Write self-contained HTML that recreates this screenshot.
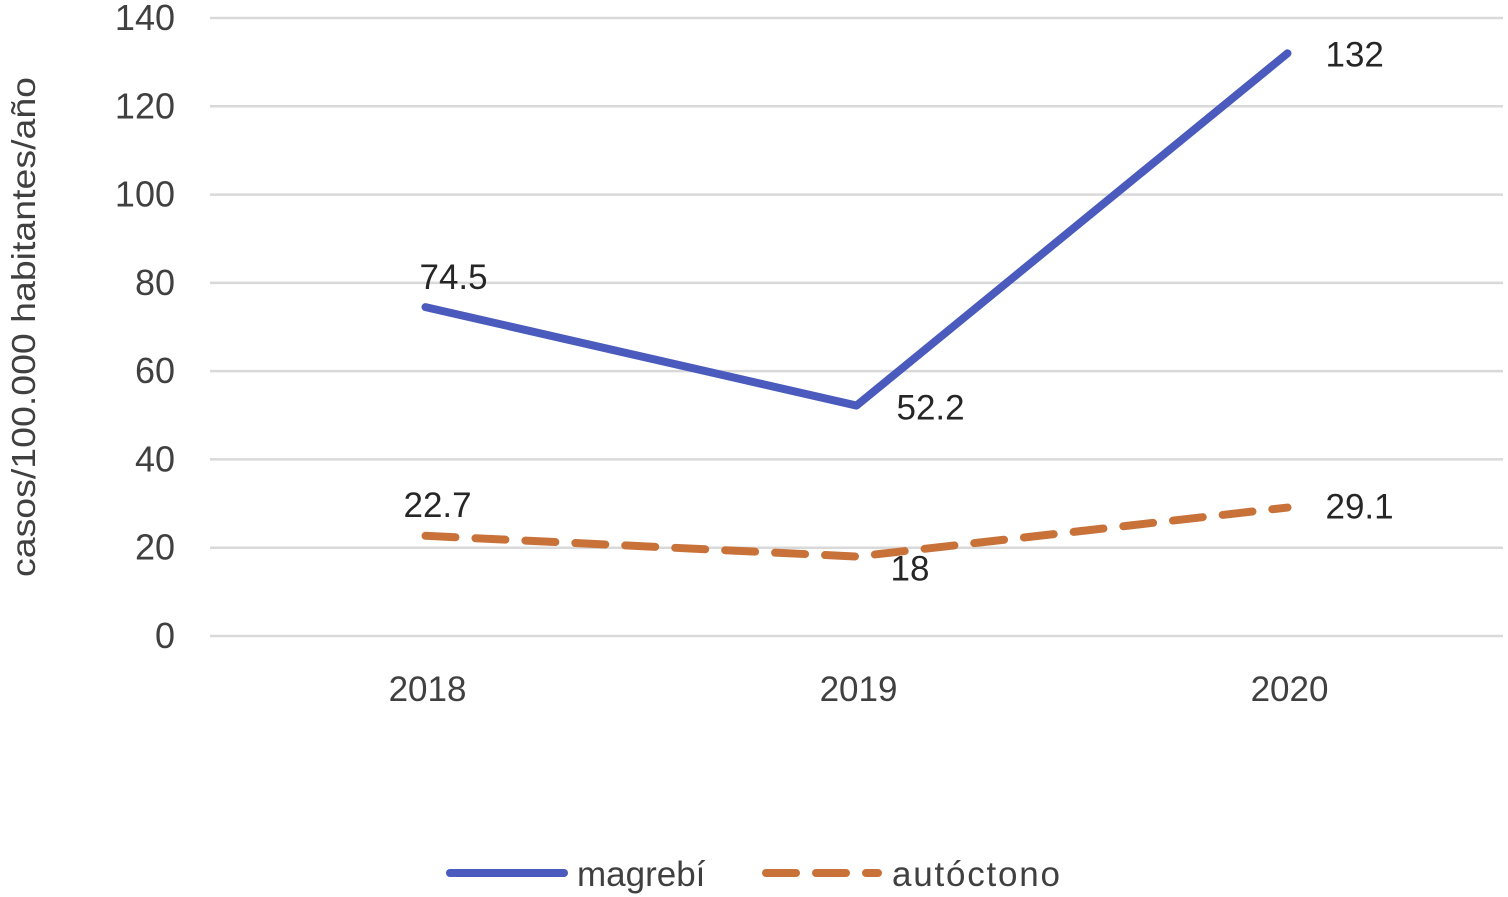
<!DOCTYPE html>
<html><head><meta charset="utf-8">
<style>
html,body{margin:0;padding:0;background:#fff;}
svg{display:block;font-family:"Liberation Sans",sans-serif;}
</style></head>
<body>
<svg id="chart" width="1508" height="897" viewBox="0 0 1508 897">
  <g id="grid"></g>
  <g id="yticks"></g>
  <g id="xticks"></g>
  <text transform="translate(35,327) rotate(-90)" text-anchor="middle" font-size="33" textLength="500" lengthAdjust="spacingAndGlyphs" fill="#404040">casos/100.000 habitantes/año</text>
  <g id="series"></g>
  <g id="labels"></g>
  <g>
    <line x1="450" y1="873" x2="564" y2="873" stroke="#4a5bbd" stroke-width="8" stroke-linecap="round"/>
    <text x="577" y="886" font-size="35" fill="#404040">magrebí</text>
    <line x1="766" y1="873" x2="878" y2="873" stroke="#c8723a" stroke-width="8" stroke-dasharray="30 20" stroke-linecap="round"/>
    <text x="892" y="886" font-size="35" textLength="168" fill="#404040">autóctono</text>
  </g>
</svg>
<script>
const categories = ["2018","2019","2020"];
const magrebi = [74.5, 52.2, 132];
const autoctono = [22.7, 18, 29.1];
const yTicks = [0,20,40,60,80,100,120,140];
const magrebiLabels = ["74.5","52.2","132"];
const autoctonoLabels = ["22.7","18","29.1"];

const NS="http://www.w3.org/2000/svg";
const plotL=210, plotR=1503, y0=636, yTop=18, yMax=140;
const band=(plotR-plotL)/categories.length;
const xs=i=>plotL+band*(i+0.5);
const ys=v=>y0-(v/yMax)*(y0-yTop);
function mk(tag,attrs,parent,txt){const e=document.createElementNS(NS,tag);for(const k in attrs)e.setAttribute(k,attrs[k]);if(txt!==undefined)e.textContent=txt;parent.appendChild(e);return e;}

const grid=document.getElementById('grid'), yt=document.getElementById('yticks'), xt=document.getElementById('xticks');
yTicks.forEach(t=>{
  const l=mk('line',{x1:plotL,x2:plotR,y1:ys(t),y2:ys(t),stroke:'#d9d9d9','stroke-width':2.5},grid);
  
  
  const tx=mk('text',{x:175,y:ys(t)+12,'text-anchor':'end','font-size':36,fill:'#404040'},yt,String(t));
  
  
});
categories.forEach((c,i)=>{
  const tx=mk('text',{x:xs(i)+2,y:701,'text-anchor':'middle','font-size':35,fill:'#404040'},xt,c);
  
  
});
const ser=document.getElementById('series');
const pm=mk('polyline',{points:magrebi.map((v,i)=>xs(i)+','+ys(v)).join(' '),fill:'none',stroke:'#4a5bbd','stroke-width':8,'stroke-linecap':'round','stroke-linejoin':'round'},ser);


const pa=mk('polyline',{points:autoctono.map((v,i)=>xs(i)+','+ys(v)).join(' '),fill:'none',stroke:'#c8723a','stroke-width':8,'stroke-dasharray':'30 20','stroke-linecap':'round'},ser);



const lab=document.getElementById('labels');
const mOff=[[-6,-18,'start'],[40,14,'start'],[38,13,'start']];
const aOff=[[-22,-19,'start'],[34,24,'start'],[38,11,'start']];
magrebi.forEach((v,i)=>{
  const t=mk('text',{x:xs(i)+mOff[i][0],y:ys(v)+mOff[i][1],'font-size':35,fill:'#262626'},lab,magrebiLabels[i]);
  
  
});
autoctono.forEach((v,i)=>{
  const t=mk('text',{x:xs(i)+aOff[i][0],y:ys(v)+aOff[i][1],'font-size':35,fill:'#262626'},lab,autoctonoLabels[i]);
  
  
});
</script>
</body></html>
